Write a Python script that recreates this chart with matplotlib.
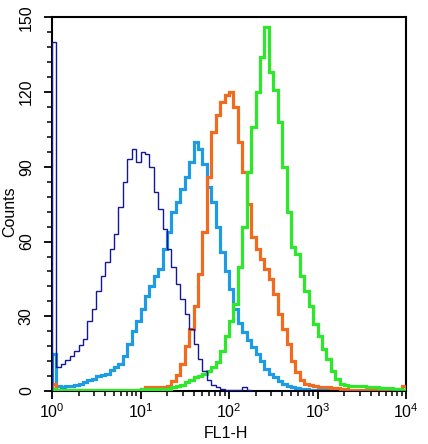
import numpy as np
import matplotlib
matplotlib.use("Agg")
import matplotlib.pyplot as plt
from matplotlib.ticker import LogLocator, MultipleLocator, FixedLocator

plt.rcParams['font.family'] = ['Liberation Sans', 'DejaVu Sans']
plt.rcParams['mathtext.fontset'] = 'custom'
plt.rcParams['mathtext.rm'] = 'Liberation Sans'
plt.rcParams['mathtext.it'] = 'Liberation Sans'
plt.rcParams['mathtext.bf'] = 'Liberation Sans'

# histogram bins: 80 bins across 4 decades (log10 of FL1-H)
decade_min, decade_max, n_bins = 0, 4, 80

navy_counts = [140, 9.5, 11, 12.5, 14, 16, 18.5, 21, 28, 33,
               40, 46, 52, 57, 63, 74, 84, 93, 97, 92,
               96, 95, 90, 80, 73, 65, 57, 50, 43, 37,
               31, 25, 19, 13, 8, 4.5, 2.5, 1.5, 0.8, 0.5,
               0.3, 0.3, 0.6, 1.5, 0.3] + [0.2] * 21 + [0] * 14

lightblue_counts = [15, 2, 1.5, 2, 2, 2.5, 3, 3.5, 4.5, 5,
                    6, 6.5, 7, 8.5, 9.5, 11, 14, 19, 24, 28,
                    33, 38, 42, 46, 49, 57, 64, 72, 76, 81,
                    86, 92, 100, 97, 91, 82, 76, 66, 56, 48,
                    41, 33, 27.5, 23.5, 20.5, 17.5, 15, 12, 9, 7,
                    5.5, 4, 3, 2.2, 1.8, 1.4, 1.0, 0.8] + [0.5] * 9 + [0] * 13

orange_counts = [3] + [0.3] * 19 + [1, 1.5, 1.5, 1.5, 1.5, 1.8, 2, 4, 6.5, 11,
                 18, 25, 34, 47, 64, 86, 104, 111, 116, 119,
                 120, 114, 100, 88, 75, 62, 57, 53, 49, 45,
                 39, 31, 25, 19, 12, 7.5, 4.5, 3, 2.5, 2,
                 1.8, 1.5, 1.5, 1.3, 1.2, 1, 0.8] + [0.5] * 11 + [1, 2]

green_counts = [1] + [0.5] * 19 + [0.8] * 6 + [1, 1.5, 2, 2.5, 3.5, 4.5, 5.5, 6, 7, 8,
                9.5, 11.5, 16, 22, 28, 35, 50, 66, 88, 106,
                120, 134, 146, 128, 121, 108, 90, 72, 58, 55,
                46, 40, 34, 27, 22, 17, 13, 8, 5, 3,
                2.5, 2.2, 2, 2, 2, 1.8, 1.5, 1.5, 1.3, 1.2,
                1.2, 1, 0.8, 0.5]

y_ticks = [0, 30, 60, 90, 120, 150]
x_ticks = [1, 10, 100, 1000, 10000]
x_ticklabels = [r'$10^{0}$', r'$10^{1}$', r'$10^{2}$', r'$10^{3}$', r'$10^{4}$']

edges = 10 ** np.linspace(decade_min, decade_max, n_bins + 1)

fig = plt.figure(figsize=(4.28, 4.44), dpi=100)
ax = fig.add_axes([52 / 428, 1 - 391 / 444, 354 / 428, 373.5 / 444])

ax.stairs(lightblue_counts, edges, color='#1E9BE2', linewidth=2.3, zorder=2)
ax.stairs(orange_counts, edges, color='#F26A1E', linewidth=2.3, zorder=3)
ax.stairs(green_counts, edges, color='#2DE82A', linewidth=2.3, zorder=4)
ax.stairs(navy_counts, edges, color='#16169A', linewidth=1.0, zorder=5)

ax.set_xscale('log')
ax.set_xlim(1, 10000)
ax.set_ylim(0, 150)

ax.xaxis.set_major_locator(FixedLocator(x_ticks))
ax.set_xticklabels(x_ticklabels)
ax.xaxis.set_minor_locator(LogLocator(base=10, subs=np.arange(2, 10)))
ax.yaxis.set_major_locator(FixedLocator(y_ticks))
ax.set_yticklabels([str(v) for v in y_ticks])
ax.yaxis.set_minor_locator(MultipleLocator(6))

for lab in ax.get_yticklabels():
    lab.set_rotation(90)
    lab.set_va('center')

ax.tick_params(axis='both', which='major', direction='out', length=6, width=1.3,
               labelsize=11.5, color='black')
ax.tick_params(axis='both', which='minor', direction='out', length=3.5, width=1.1)
ax.tick_params(axis='y', which='major', pad=7)
ax.tick_params(axis='x', which='major', pad=2)

for sp in ax.spines.values():
    sp.set_linewidth(1.5)
    sp.set_color('black')

fig.text(10 / 428, 1 - 212 / 444, 'Counts', rotation=90, ha='center', va='center', fontsize=11.5)
fig.text(226 / 428, 1 - 433 / 444, 'FL1-H', ha='center', va='center', fontsize=11.5)

fig.savefig('out.png', dpi=100)
